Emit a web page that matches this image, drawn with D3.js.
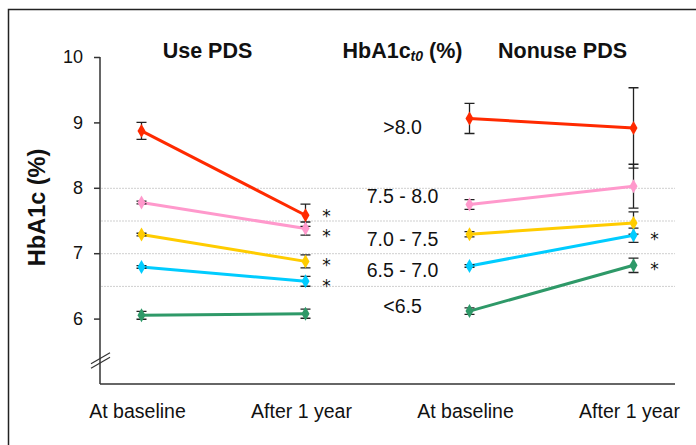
<!DOCTYPE html>
<html><head><meta charset="utf-8">
<script src="https://cdn.jsdelivr.net/npm/d3@7"></script>
<style>
html,body{margin:0;padding:0;background:#fff;}
text{font-family:"Liberation Sans",Arial,Helvetica,sans-serif;fill:#111;}
</style></head>
<body>
<svg id="chart" width="696" height="445"></svg>
<script>
// ---- data ----
const groups = [">8.0", "7.5 - 8.0", "7.0 - 7.5", "6.5 - 7.0", "<6.5"];
const groupColors = ["#ff2a00", "#ff99cc", "#ffcc00", "#00ccff", "#2e9968"];
const timepoints = ["At baseline", "After 1 year"];
const panels = ["Use PDS", "Nonuse PDS"];
const usePDSBaseline = [8.87, 7.775, 7.285, 6.79, 6.05];
const usePDSBaselineErr = [0.13, 0.02, 0.02, 0.02, 0.06];
const usePDSAfter = [7.58, 7.377, 6.875, 6.57, 6.075];
const usePDSAfterErr = [0.17, 0.10, 0.10, 0.075, 0.07];
const usePDSSignif = [true, true, true, true, false];
const nonuseBaseline = [9.06, 7.745, 7.29, 6.805, 6.115];
const nonuseBaselineErr = [0.23, 0.075, 0.04, 0.02, 0.05];
const nonuseAfter = [8.915, 8.025, 7.463, 7.274, 6.815];
const nonuseAfterErr = [0.615, 0.335, 0.17, 0.11, 0.11];
const nonuseSignif = [false, false, false, true, true];
const yTicks = [6, 7, 8, 9, 10];
const gridValues = [8, 7.5, 7, 6.5];
const groupLabelLevels = [8.93, 7.88, 7.21, 6.75, 6.19];

// ---- layout ----
const svg = d3.select("#chart");
const xKeys = ["u0", "u1", "n0", "n1"];
const x = d3.scalePoint().domain(xKeys).range([100, 675]).padding(0.253);
const y = d3.scaleLinear().domain([5, 10]).range([384, 57]);

// frame
svg.append("rect").attr("x", 8.5).attr("y", 9.5).attr("width", 720).attr("height", 460)
  .attr("fill", "none").attr("stroke", "#222").attr("stroke-width", 1.5);

// gridlines
svg.append("g").selectAll("line").data(gridValues).join("line")
  .attr("x1", 101).attr("x2", 675)
  .attr("y1", d => y(d) + 0.5).attr("y2", d => y(d) + 0.5)
  .attr("stroke", "#cfcfcf").attr("stroke-width", 1).attr("stroke-dasharray", "2,1");

// y axis
const yAxis = d3.axisLeft(y).tickValues(yTicks).tickSize(6).tickPadding(11).tickFormat(d3.format("d"));
const gy = svg.append("g").attr("transform", "translate(100,0)").call(yAxis);
gy.select(".domain").attr("stroke", "#333").attr("stroke-width", 1.5).attr("d", `M-0,${y(10)}V${y(5)}`);
gy.selectAll(".tick line").attr("stroke", "#333").attr("stroke-width", 1.5);
gy.selectAll(".tick text").attr("font-size", 18).attr("fill", "#111")
  .style("font-family", "'Liberation Sans',Arial,sans-serif");

// x axis line
svg.append("line").attr("x1", 100).attr("x2", 675).attr("y1", y(5)).attr("y2", y(5))
  .attr("stroke", "#333").attr("stroke-width", 1.5);

// axis break marks
const by = y(5.4);
[0, 4.5].forEach(off => {
  svg.append("line").attr("x1", 91).attr("y1", by + 6 + off).attr("x2", 110).attr("y2", by - 5 + off)
    .attr("stroke", "#333").attr("stroke-width", 1.2);
});

// x labels
const xLabels = [timepoints[0], timepoints[1], timepoints[0], timepoints[1]];
svg.append("g").selectAll("text").data(xKeys).join("text")
  .attr("x", d => x(d) - 4).attr("y", 418).attr("text-anchor", "middle")
  .attr("font-size", 19.5).text((d, i) => xLabels[i]);

// y title
svg.append("text").attr("transform", `translate(45,${y(7.7)}) rotate(-90)`)
  .attr("text-anchor", "middle").attr("font-size", 23.5).attr("font-weight", "bold").text("HbA1c (%)");

// panel titles
svg.append("text").attr("x", (x("u0") + x("u1")) / 2 - 16).attr("y", 58).attr("text-anchor", "middle")
  .attr("font-size", 21.5).attr("font-weight", "bold").text(panels[0]);
svg.append("text").attr("x", (x("n0") + x("n1")) / 2 + 11).attr("y", 58).attr("text-anchor", "middle")
  .attr("font-size", 21.5).attr("font-weight", "bold").text(panels[1]);
const mid = (x("u1") + x("n0")) / 2 + 15;
const ht = svg.append("text").attr("x", mid).attr("y", 58).attr("text-anchor", "middle")
  .attr("font-size", 21.5).attr("font-weight", "bold");
ht.append("tspan").text("HbA1c");
ht.append("tspan").attr("font-size", 14).attr("font-style", "italic").attr("dy", 3).text("t0");
ht.append("tspan").attr("dy", -3).text(" (%)");

// group labels
svg.append("g").selectAll("text").data(groups).join("text")
  .attr("x", mid).attr("y", (d, i) => y(groupLabelLevels[i]) + 7)
  .attr("text-anchor", "middle").attr("font-size", 19.5).text(d => d);

// series
const series = [
  { k0: "u0", k1: "u1", v0: usePDSBaseline, e0: usePDSBaselineErr, v1: usePDSAfter, e1: usePDSAfterErr, sig: usePDSSignif },
  { k0: "n0", k1: "n1", v0: nonuseBaseline, e0: nonuseBaselineErr, v1: nonuseAfter, e1: nonuseAfterErr, sig: nonuseSignif }
];
const lineG = svg.append("g"), errG = svg.append("g"), markG = svg.append("g"), starG = svg.append("g");
const diamond = d3.symbol().type(d3.symbolDiamond).size(56);
series.forEach(s => {
  const sigIdx = groups.map((g, i) => i).filter(i => s.sig[i]);
  groups.forEach((g, i) => {
    const pts = [[x(s.k0), s.v0[i], s.e0[i]], [x(s.k1), s.v1[i], s.e1[i]]];
    lineG.append("path").attr("d", d3.line().x(p => p[0]).y(p => y(p[1]))(pts))
      .attr("stroke", groupColors[i]).attr("stroke-width", 3).attr("fill", "none");
    pts.forEach(p => {
      const top = y(p[1] + p[2]), bot = y(p[1] - p[2]);
      errG.append("path").attr("d", `M${p[0]},${top}V${bot}M${p[0] - 5},${top}H${p[0] + 5}M${p[0] - 5},${bot}H${p[0] + 5}`)
        .attr("stroke", "#222").attr("stroke-width", 1.3).attr("fill", "none");
      markG.append("path").attr("d", diamond).attr("transform", `translate(${p[0]},${y(p[1])})`)
        .attr("fill", groupColors[i]);
    });
  });
  // asterisks; spread apart symmetrically when two neighbours are too close
  const ys = sigIdx.map(i => y(s.v1[i]));
  for (let j = 1; j < ys.length; j++) {
    const gap = ys[j] - ys[j - 1];
    if (gap < 20.5) { const d = (20.5 - gap) / 2; ys[j - 1] -= d; ys[j] += d; }
  }
  ys.forEach(cy => {
    starG.append("text").attr("x", x(s.k1) + 21).attr("y", cy + 10)
      .attr("text-anchor", "middle").attr("font-size", 17)
      .style("font-family", "'DejaVu Sans',sans-serif").text("*");
  });
});
</script>
</body></html>
